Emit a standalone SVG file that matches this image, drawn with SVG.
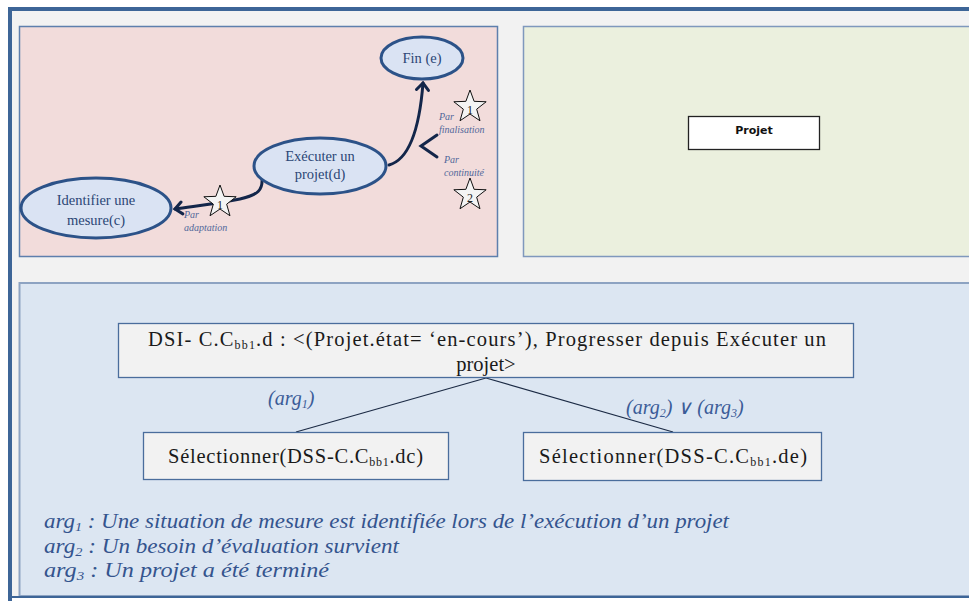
<svg xmlns="http://www.w3.org/2000/svg" width="969" height="601" viewBox="0 0 969 601">
<defs>
<style>
.ell{fill:#dae3f3;stroke:#2c5288;stroke-width:3}
.etxt{font-family:"Liberation Serif",serif;font-size:14.5px;fill:#2b4675;text-anchor:middle}
.lbl{font-family:"Liberation Serif",serif;font-size:10px;font-style:italic;fill:#51679a}
.num{font-family:"Liberation Serif",serif;font-size:12px;fill:#222;text-anchor:middle}
.star{fill:#f4f4f4;stroke:#111;stroke-width:1}
.arrow{fill:none;stroke:#13264a;stroke-width:3;stroke-linecap:round}
.box{fill:#f2f2f2;stroke:#4a6d9c;stroke-width:1.3}
.btxt{font-family:"Liberation Serif",serif;font-size:20.5px;fill:#1a1a1a}
.arg{font-family:"Liberation Serif",serif;font-size:20px;font-style:italic;fill:#3b5c98}
.note{font-family:"Liberation Serif",serif;font-size:21px;font-style:italic;fill:#34548e}
.conn{stroke:#1b2a44;stroke-width:1.2;fill:none}
</style>
<path id="starShape" d="M0,-17 L4.11,-5.66 L16.17,-5.25 L6.66,2.16 L9.99,13.75 L0,7 L-9.99,13.75 L-6.66,2.16 L-16.17,-5.25 L-4.11,-5.66 Z"/>
<marker id="chev" markerUnits="userSpaceOnUse" markerWidth="16" markerHeight="16" refX="9" refY="7" orient="auto" viewBox="0 0 16 14">
<path d="M2,1 L9,7 L2,13" fill="none" stroke="#13264a" stroke-width="3" stroke-linecap="round" stroke-linejoin="miter"/>
</marker>
</defs>

<rect x="0" y="0" width="969" height="601" fill="#ffffff"/>
<rect x="10" y="9" width="965" height="588" fill="#f2f2f2"/>
<line x1="8" y1="9" x2="969" y2="9" stroke="#3d6597" stroke-width="4"/>
<line x1="10" y1="7" x2="10" y2="601" stroke="#3d6597" stroke-width="4"/>

<rect x="19.5" y="26.5" width="478" height="230" fill="#f2dcdb" stroke="#5e7fad" stroke-width="1.5"/>
<rect x="523.5" y="26.5" width="460" height="230" fill="#ebf0de" stroke="#7f98bd" stroke-width="1.5"/>
<rect x="19.5" y="283" width="960" height="313" fill="#dce6f2" stroke="#8da3c2" stroke-width="2"/>
<line x1="10" y1="597" x2="969" y2="597" stroke="#3d6597" stroke-width="2"/>

<g id="connectors">
<path class="arrow" d="M262,178 C263,190 258,195 240,199 C215,204 195,206 175,209" marker-end="url(#chev)"/>
<path class="arrow" d="M389,165 C407,160 419,135 423,83" marker-end="url(#chev)"/>
<path class="arrow" d="M437,135 L421,146 L437,157" stroke-linecap="butt"/>
<line class="conn" x1="486" y1="378" x2="296" y2="432"/>
<line class="conn" x1="486" y1="378" x2="673" y2="432"/>
</g>

<g id="node-fin">
<ellipse class="ell" cx="422" cy="58" rx="41" ry="21"/>
<text class="etxt" x="422" y="63">Fin (e)</text>
</g>
<g id="node-executer">
<ellipse class="ell" cx="320" cy="166" rx="66" ry="28"/>
<text class="etxt" x="320" y="161">Exécuter un</text>
<text class="etxt" x="320" y="179">projet(d)</text>
</g>
<g id="node-identifier">
<ellipse class="ell" cx="96" cy="208" rx="75" ry="30"/>
<text class="etxt" x="96" y="205">Identifier une</text>
<text class="etxt" x="96" y="225">mesure(c)</text>
</g>

<g id="star-adaptation">
<use href="#starShape" class="star" transform="translate(220,202)"/>
<text class="num" x="220" y="209">1</text>
<text class="lbl" x="184" y="218">Par</text>
<text class="lbl" x="184" y="231">adaptation</text>
</g>
<g id="star-finalisation">
<use href="#starShape" class="star" transform="translate(470,107)"/>
<text class="num" x="470" y="114">1</text>
<text class="lbl" x="439" y="120">Par</text>
<text class="lbl" x="439" y="133">finalisation</text>
</g>
<g id="star-continuite">
<use href="#starShape" class="star" transform="translate(470,195)"/>
<text class="num" x="470" y="202">2</text>
<text class="lbl" x="444" y="163">Par</text>
<text class="lbl" x="444" y="176">continuité</text>
</g>

<g id="node-projet">
<rect x="688.5" y="116.5" width="131" height="33" fill="#ffffff" stroke="#222" stroke-width="1.3"/>
<text x="754" y="134" font-family="'DejaVu Sans','Liberation Sans',sans-serif" font-size="11" font-weight="bold" fill="#111" text-anchor="middle">Projet</text>
</g>

<g id="node-dsi">
<rect class="box" x="118.5" y="323.5" width="735" height="54"/>
<text class="btxt" x="148" y="346" textLength="678" lengthAdjust="spacing">DSI- C.C<tspan font-size="12" dy="3">bb1</tspan><tspan dy="-3">.d : &lt;(Projet.état= ‘en-cours’), Progresser depuis Exécuter un</tspan></text>
<text class="btxt" x="486" y="371" text-anchor="middle">projet&gt;</text>
</g>

<g id="node-sel-dc">
<rect class="box" x="143.5" y="432.5" width="305" height="47"/>
<text class="btxt" x="168" y="463" textLength="255" lengthAdjust="spacing">Sélectionner(DSS-C.C<tspan font-size="12" dy="3">bb1</tspan><tspan dy="-3">.dc)</tspan></text>
</g>
<g id="node-sel-de">
<rect class="box" x="523.5" y="432.5" width="298" height="48"/>
<text class="btxt" x="539" y="463" textLength="268" lengthAdjust="spacing">Sélectionner(DSS-C.C<tspan font-size="12" dy="3">bb1</tspan><tspan dy="-3">.de)</tspan></text>
</g>

<g id="edge-labels">
<text class="arg" x="268" y="405">(arg<tspan font-size="12" dy="3">1</tspan><tspan dy="-3">)</tspan></text>
<text class="arg" x="626" y="414">(arg<tspan font-size="12" dy="3">2</tspan><tspan dy="-3">) ∨ (arg</tspan><tspan font-size="12" dy="3">3</tspan><tspan dy="-3">)</tspan></text>
</g>

<g id="notes">
<text class="note" x="44" y="528" textLength="685" lengthAdjust="spacingAndGlyphs">arg<tspan font-size="13" dy="3">1</tspan><tspan dy="-3"> : Une situation de mesure est identifiée lors de l’exécution d’un projet</tspan></text>
<text class="note" x="44" y="553" textLength="355" lengthAdjust="spacingAndGlyphs">arg<tspan font-size="13" dy="3">2</tspan><tspan dy="-3"> : Un besoin d’évaluation survient</tspan></text>
<text class="note" x="44" y="577" textLength="285" lengthAdjust="spacingAndGlyphs">arg<tspan font-size="13" dy="3">3</tspan><tspan dy="-3"> : Un projet a été terminé</tspan></text>
</g>
</svg>
